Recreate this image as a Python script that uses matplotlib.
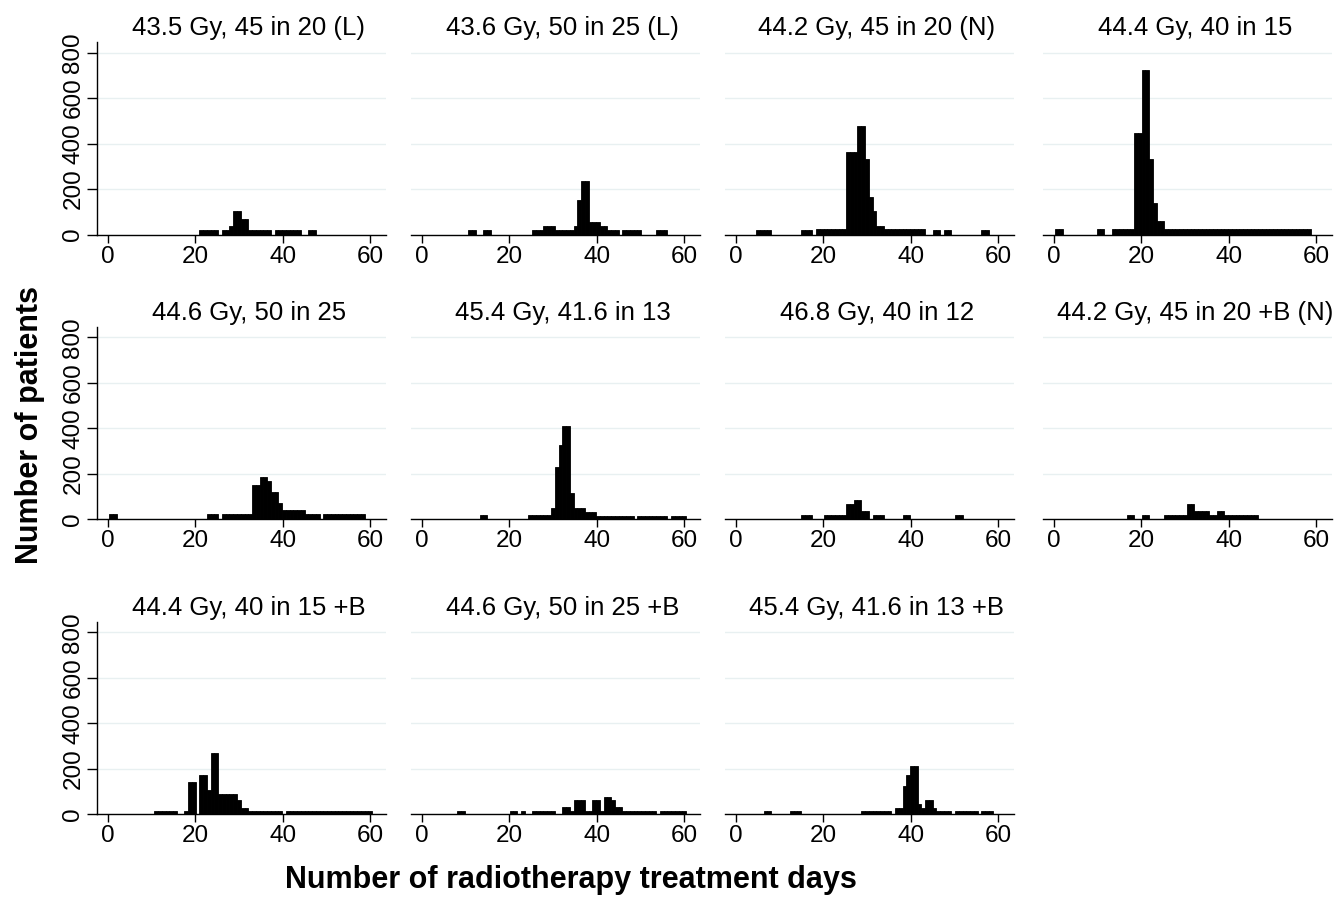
import numpy as np
import matplotlib
matplotlib.use('Agg')
import matplotlib.pyplot as plt

plt.rcParams['font.family'] = ['Liberation Sans', 'DejaVu Sans']

# histogram bins shared by every panel
bin_start = 0.43
bin_width = 60.0 / 70
n_bins = 70

titles = [
    "43.5 Gy, 45 in 20 (L)", "43.6 Gy, 50 in 25 (L)", "44.2 Gy, 45 in 20 (N)", "44.4 Gy, 40 in 15",
    "44.6 Gy, 50 in 25", "45.4 Gy, 41.6 in 13", "46.8 Gy, 40 in 12", "44.2 Gy, 45 in 20 +B (N)",
    "44.4 Gy, 40 in 15 +B", "44.6 Gy, 50 in 25 +B", "45.4 Gy, 41.6 in 13 +B",
]

# runs of bins: (first bin, last bin, number of patients)
runs_435_L = [(24, 28, 18), (30, 31, 18), (32, 32, 37), (33, 34, 103), (35, 36, 68),
              (37, 42, 18), (44, 50, 18), (53, 54, 18)]
runs_436_L = [(12, 13, 18), (16, 17, 18), (29, 31, 18), (32, 34, 37), (35, 39, 18), (40, 40, 38),
              (41, 41, 151), (42, 43, 235), (44, 46, 53), (47, 48, 37), (49, 51, 18), (53, 57, 18),
              (62, 64, 18)]
runs_442_N = [(5, 8, 19), (17, 19, 19), (21, 28, 22), (29, 31, 364), (32, 33, 477), (34, 34, 330),
              (35, 35, 166), (36, 36, 103), (37, 38, 38), (39, 49, 22), (52, 53, 19), (55, 56, 19),
              (65, 66, 19)]
runs_444 = [(0, 1, 22), (11, 12, 22), (15, 20, 22), (21, 22, 448), (23, 24, 725), (25, 25, 331),
            (26, 26, 137), (27, 28, 59), (29, 67, 22)]
runs_446 = [(0, 1, 22), (26, 28, 22), (30, 37, 22), (38, 39, 151), (40, 41, 185), (42, 42, 168),
            (43, 44, 119), (45, 45, 71), (46, 51, 40), (52, 55, 22), (57, 67, 22)]
runs_454 = [(15, 16, 19), (28, 33, 19), (34, 34, 51), (35, 35, 228), (36, 36, 325), (37, 38, 409),
            (39, 39, 115), (40, 42, 51), (43, 45, 34), (46, 55, 16), (57, 64, 16), (66, 69, 16)]
runs_468 = [(17, 19, 21), (23, 28, 21), (29, 30, 69), (31, 32, 85), (33, 34, 37), (36, 38, 21),
            (44, 45, 21), (58, 59, 21)]
runs_442_BN = [(19, 20, 21), (23, 24, 21), (29, 34, 21), (35, 36, 69), (37, 40, 37), (41, 42, 21),
               (43, 44, 37), (45, 53, 21)]
runs_444_B = [(12, 17, 15), (20, 20, 15), (21, 22, 141), (24, 25, 171), (26, 26, 109), (27, 28, 268),
              (29, 33, 91), (34, 34, 61), (35, 36, 26), (37, 45, 15), (47, 69, 15)]
runs_446_B = [(9, 10, 15), (23, 24, 15), (26, 26, 15), (29, 34, 15), (37, 38, 31), (39, 39, 15),
              (40, 42, 63), (43, 44, 15), (45, 46, 63), (47, 47, 15), (48, 49, 77), (50, 50, 63),
              (51, 52, 31), (53, 61, 15), (63, 69, 15)]
runs_454_B = [(7, 8, 15), (14, 16, 15), (33, 40, 15), (42, 43, 26), (44, 44, 125), (45, 45, 174),
              (46, 47, 212), (48, 48, 44), (49, 49, 26), (50, 51, 62), (52, 52, 26), (53, 56, 15),
              (58, 63, 15), (65, 67, 15)]

all_runs = [runs_435_L, runs_436_L, runs_442_N, runs_444, runs_446, runs_454, runs_468,
            runs_442_BN, runs_444_B, runs_446_B, runs_454_B]

xticks = [0, 20, 40, 60]
yticks = [0, 200, 400, 600, 800]

W, H = 1343, 917
fig = plt.figure(figsize=(W / 100, H / 100), dpi=100, facecolor='white')

col_left = [97, 411, 725, 1043]
row_base = [234.5, 519.3, 814.3]
ax_w = 289
ax_h = 192.2

edges = bin_start + bin_width * np.arange(n_bins + 1)

for i, (title, runs) in enumerate(zip(titles, all_runs)):
    r, c = divmod(i, 4)
    ax = fig.add_axes([col_left[c] / W, (H - row_base[r]) / H, ax_w / W, ax_h / H])

    counts = np.zeros(n_bins)
    for a, b, n in runs:
        counts[a:b + 1] = n
    keep = counts > 0
    ax.bar(edges[:-1][keep], counts[keep], width=bin_width, align='edge',
           color='black', edgecolor='black', linewidth=0.6, zorder=3)

    ax.set_xlim(-2.4, 63.6)
    ax.set_ylim(0, 845)
    ax.set_yticks(yticks)
    ax.set_xticks(xticks)
    ax.grid(axis='y', color='#e8f0f1', linewidth=1.0, zorder=0)
    ax.set_axisbelow(True)

    for s in ['top', 'right']:
        ax.spines[s].set_visible(False)
    ax.spines['bottom'].set_linewidth(1.0)
    ax.tick_params(axis='x', length=6, width=1.0, labelsize=17.5, pad=2)
    if c == 0:
        ax.spines['left'].set_linewidth(1.0)
        ax.tick_params(axis='y', length=7, width=1.0, labelsize=17.5, pad=2)
        for lab in ax.get_yticklabels():
            lab.set_rotation(90)
            lab.set_va('center')
    else:
        ax.spines['left'].set_visible(False)
        ax.tick_params(axis='y', length=0, labelleft=False)

    # subtitle sits a little right of the plot centre
    t = ax.set_title(title, fontsize=18.5, pad=5)
    t.set_x(0.525)

fig.text(0.022, 0.5365, 'Number of patients', rotation=90, ha='center', va='center',
         fontsize=22, fontweight='bold')
fig.text(0.425, 0.040, 'Number of radiotherapy treatment days', ha='center', va='center',
         fontsize=22, fontweight='bold')

fig.savefig('out.png', dpi=100, facecolor='white')
